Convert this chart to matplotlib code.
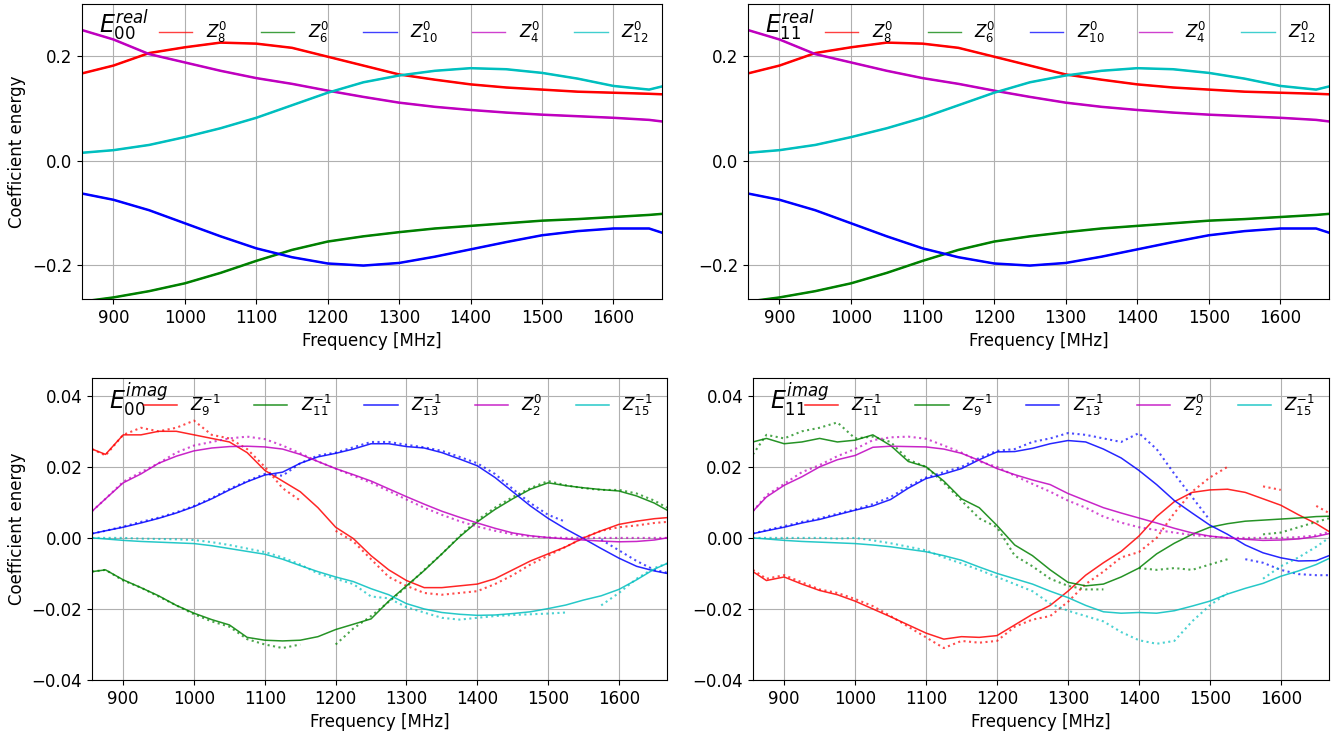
import numpy as np
import matplotlib
matplotlib.use('Agg')
import matplotlib.pyplot as plt

# ---- real part (both top panels look the same) ----
freq_real = [856, 900, 950, 1000, 1050, 1100, 1150, 1200, 1250, 1300,
             1350, 1400, 1450, 1500, 1550, 1600, 1650, 1668]
z8_real = [0.167, 0.182, 0.206, 0.217, 0.226, 0.224, 0.216, 0.199, 0.182, 0.165,
           0.155, 0.146, 0.140, 0.136, 0.132, 0.130, 0.128, 0.127]
z6_real = [-0.270, -0.262, -0.250, -0.235, -0.215, -0.192, -0.171, -0.155, -0.145, -0.137,
           -0.130, -0.125, -0.120, -0.115, -0.112, -0.108, -0.104, -0.102]
z10_real = [-0.063, -0.075, -0.095, -0.120, -0.145, -0.168, -0.185, -0.197, -0.201, -0.196,
            -0.184, -0.170, -0.156, -0.143, -0.135, -0.130, -0.130, -0.138]
z4_real = [0.250, 0.232, 0.204, 0.188, 0.172, 0.158, 0.147, 0.134, 0.122, 0.111,
           0.103, 0.097, 0.092, 0.088, 0.085, 0.082, 0.078, 0.075]
z12_real = [0.015, 0.020, 0.030, 0.045, 0.062, 0.082, 0.106, 0.130, 0.150, 0.163,
            0.172, 0.177, 0.175, 0.168, 0.157, 0.143, 0.136, 0.142]

# ---- imaginary part ----
freq_imag = [856, 875, 900, 925, 950, 975, 1000, 1025, 1050, 1075, 1100, 1125,
             1150, 1175, 1200, 1225, 1250, 1275, 1300, 1325, 1350, 1375, 1400,
             1425, 1450, 1475, 1500, 1525, 1550, 1575, 1600, 1625, 1650, 1668]
nan = np.nan

# E00 imag: model lines / measured dots
e00_z9_fit = [0.025, 0.0235, 0.029, 0.029, 0.030, 0.030, 0.029, 0.028, 0.027, 0.024, 0.019, 0.016,
              0.013, 0.0085, 0.003, -0.0002, -0.005, -0.009, -0.012, -0.014, -0.014, -0.0135, -0.013,
              -0.0115, -0.009, -0.0065, -0.0045, -0.0025, 0.0, 0.002, 0.0038, 0.0047, 0.0054, 0.0057]
e00_z9_dat = [0.025, 0.0232, 0.029, 0.031, 0.030, 0.031, 0.033, 0.029, 0.028, 0.025, 0.020, 0.014,
              0.0105, nan, 0.002, -0.001, -0.006, -0.011, -0.0135, -0.0155, -0.016, -0.0155, -0.015,
              -0.013, -0.0105, -0.0075, -0.005, -0.0025, 0.0, 0.002, 0.003, 0.0035, 0.0042, 0.0045]
e00_z11_fit = [-0.0095, -0.009, -0.0118, -0.014, -0.0163, -0.019, -0.0212, -0.023, -0.0245, -0.028, -0.0288, -0.029,
               -0.0288, -0.0278, -0.0258, -0.0243, -0.0228, -0.0178, -0.0135, -0.0092, -0.0045, 0.0003, 0.0045,
               0.008, 0.011, 0.0137, 0.0155, 0.0147, 0.0141, 0.0136, 0.0132, 0.0118, 0.0098, 0.0078]
e00_z11_dat = [-0.0095, -0.009, -0.012, -0.014, -0.0165, -0.019, -0.0215, -0.0235, -0.025, -0.0285, -0.030, -0.031,
               -0.030, nan, -0.030, -0.0255, -0.022, -0.018, -0.0138, -0.009, -0.0045, 0.0005, 0.005,
               0.0085, 0.0115, 0.014, 0.016, 0.0148, 0.014, 0.0135, 0.0135, 0.0125, 0.0105, 0.0085]
e00_z13_fit = [0.0012, 0.002, 0.003, 0.0042, 0.0055, 0.007, 0.0088, 0.011, 0.0135, 0.0158, 0.0177, 0.0185,
               0.021, 0.0228, 0.0238, 0.025, 0.0265, 0.0265, 0.0257, 0.0253, 0.024, 0.0222, 0.0203,
               0.017, 0.013, 0.009, 0.0055, 0.0025, -0.0002, -0.003, -0.0057, -0.008, -0.0093, -0.010]
e00_z13_dat = [0.0012, 0.002, 0.0032, 0.0045, 0.0057, 0.0072, 0.009, 0.0112, 0.0138, 0.016, 0.018, 0.0175,
               0.021, 0.0232, 0.024, 0.0255, 0.027, 0.027, 0.0262, 0.0255, 0.0245, 0.0228, 0.021,
               0.018, 0.0138, 0.0098, 0.0065, 0.0045, nan, -0.0005, -0.0035, -0.0065, -0.009, -0.0098]
e00_z2_fit = [0.0075, 0.011, 0.0155, 0.018, 0.021, 0.023, 0.0245, 0.0253, 0.0257, 0.0258, 0.0256, 0.025,
              0.0235, 0.0215, 0.0195, 0.0178, 0.016, 0.0138, 0.0116, 0.0095, 0.0075, 0.0058, 0.0042,
              0.0027, 0.0014, 0.0006, 0.0001, -0.0003, -0.0006, -0.0009, -0.0011, -0.001, -0.0006, 0.0]
e00_z2_dat = [0.0075, 0.011, 0.0158, 0.0185, 0.021, 0.024, 0.026, 0.027, 0.028, 0.0285, 0.0278, 0.026,
              0.0238, 0.0215, 0.0195, 0.0175, 0.0155, 0.0132, 0.0108, 0.0085, 0.0065, 0.0047, 0.0032,
              0.002, 0.001, 0.0004, 0.0001, 0.0, 0.0, 0.0, 0.0, 0.0, 0.0, 0.0]
e00_z15_fit = [0.0, -0.0003, -0.0007, -0.001, -0.0012, -0.0014, -0.0016, -0.0022, -0.003, -0.0038, -0.0046, -0.006,
               -0.0078, -0.0095, -0.011, -0.0123, -0.0143, -0.016, -0.0185, -0.020, -0.021, -0.0215, -0.0218,
               -0.0217, -0.0213, -0.0208, -0.0199, -0.0189, -0.0175, -0.0163, -0.0145, -0.0118, -0.0088, -0.0072]
e00_z15_dat = [0.0, 0.0, 0.0, -0.0002, -0.0003, -0.0004, -0.0006, -0.0012, -0.002, -0.003, -0.004, -0.0055,
               -0.0075, -0.010, -0.0115, -0.013, -0.0165, -0.017, -0.0195, -0.021, -0.0225, -0.023, -0.0225,
               -0.022, -0.0217, -0.0215, -0.0213, -0.021, nan, -0.019, -0.0155, -0.0115, -0.0085, -0.0072]

# E11 imag
e11_z11_fit = [-0.0095, -0.012, -0.011, -0.013, -0.0148, -0.016, -0.0178, -0.020, -0.0222, -0.0245, -0.0268, -0.0285,
               -0.0278, -0.028, -0.0275, -0.0245, -0.0215, -0.019, -0.015, -0.0105, -0.007, -0.0038, 0.0005,
               0.006, 0.0102, 0.0128, 0.0135, 0.0137, 0.0128, 0.011, 0.0092, 0.0065, 0.004, 0.0018]
e11_z11_dat = [-0.009, -0.0115, -0.0105, -0.0125, -0.0145, -0.0155, -0.0172, -0.0192, -0.022, -0.025, -0.028, -0.031,
               -0.029, -0.0295, -0.029, -0.025, -0.023, -0.022, -0.018, -0.013, -0.0095, -0.0055, -0.004,
               0.0, 0.007, 0.013, 0.017, 0.020, nan, 0.0145, 0.0135, nan, 0.009, 0.007]
e11_z9_fit = [0.027, 0.028, 0.0265, 0.027, 0.028, 0.027, 0.0275, 0.029, 0.026, 0.0215, 0.020, 0.016,
              0.011, 0.0085, 0.0035, -0.002, -0.005, -0.009, -0.0125, -0.0135, -0.013, -0.011, -0.0085,
              -0.0045, -0.0015, 0.001, 0.003, 0.004, 0.0047, 0.005, 0.0053, 0.0056, 0.006, 0.0061]
e11_z9_dat = [0.0235, 0.029, 0.028, 0.030, 0.031, 0.0325, 0.028, 0.0285, 0.027, 0.022, 0.020, 0.0155,
              0.0105, 0.0055, 0.003, -0.005, -0.008, -0.0115, -0.0135, -0.0145, -0.0145, nan, -0.0085,
              -0.009, -0.0085, -0.009, -0.0075, -0.006, nan, 0.001, 0.0015, 0.003, 0.0045, 0.0055]
e11_z13_fit = [0.0012, 0.002, 0.003, 0.0042, 0.0052, 0.0065, 0.0078, 0.009, 0.0108, 0.014, 0.0167, 0.018,
               0.0195, 0.022, 0.0242, 0.0243, 0.0252, 0.0265, 0.0274, 0.027, 0.025, 0.0225, 0.019,
               0.015, 0.0105, 0.007, 0.0036, 0.001, -0.002, -0.0042, -0.0056, -0.0065, -0.0064, -0.005]
e11_z13_dat = [0.0012, 0.0022, 0.0033, 0.0045, 0.0055, 0.0068, 0.008, 0.0095, 0.0115, 0.0145, 0.017, 0.0185,
               0.020, 0.0225, 0.0245, 0.025, 0.027, 0.028, 0.0295, 0.029, 0.028, 0.027, 0.0295,
               0.025, 0.018, 0.0115, 0.005, nan, -0.006, -0.007, -0.009, -0.0102, -0.0105, -0.0105]
e11_z2_fit = [0.0075, 0.0115, 0.0148, 0.0172, 0.020, 0.022, 0.0232, 0.0255, 0.0258, 0.0257, 0.0256, 0.025,
              0.0238, 0.0218, 0.0195, 0.0178, 0.0163, 0.015, 0.0125, 0.0105, 0.0085, 0.007, 0.0056,
              0.0042, 0.0027, 0.0014, 0.0005, 0.0, -0.0004, -0.0007, -0.0006, -0.0003, 0.0004, 0.0012]
e11_z2_dat = [0.0075, 0.012, 0.0152, 0.0185, 0.0205, 0.023, 0.025, 0.0275, 0.0283, 0.0285, 0.0279, 0.026,
              0.024, 0.0215, 0.020, 0.0175, 0.0152, 0.013, 0.0105, 0.0085, 0.006, 0.0043, 0.003,
              0.0022, 0.0015, 0.0008, 0.0004, 0.0, 0.0, 0.0, 0.0, 0.0002, 0.0007, 0.0017]
e11_z15_fit = [0.0, -0.0003, -0.0007, -0.001, -0.0012, -0.0014, -0.0016, -0.002, -0.0025, -0.0032, -0.0039, -0.005,
               -0.0063, -0.0082, -0.010, -0.0115, -0.013, -0.015, -0.0168, -0.019, -0.0208, -0.0212, -0.021,
               -0.0212, -0.0205, -0.0192, -0.0178, -0.0158, -0.0142, -0.0128, -0.0108, -0.0093, -0.0075, -0.0058]
e11_z15_dat = [0.0, 0.0, 0.0, 0.0, 0.0, -0.0002, 0.0, -0.0007, -0.0015, -0.0025, -0.0035, -0.0055,
               -0.0072, -0.009, -0.011, -0.013, -0.015, -0.0185, -0.0205, -0.022, -0.0235, -0.0265, -0.0288,
               -0.0298, -0.029, -0.0235, -0.019, -0.0155, nan, -0.0115, -0.008, -0.0055, -0.0025, 0.0]

colors = ['r', 'g', 'b', 'm', 'c']

labels_real = [r'$Z_8^0$', r'$Z_6^0$', r'$Z_{10}^0$', r'$Z_4^0$', r'$Z_{12}^0$']
labels_e00 = [r'$Z_9^{-1}$', r'$Z_{11}^{-1}$', r'$Z_{13}^{-1}$', r'$Z_2^0$', r'$Z_{15}^{-1}$']
labels_e11 = [r'$Z_{11}^{-1}$', r'$Z_9^{-1}$', r'$Z_{13}^{-1}$', r'$Z_2^0$', r'$Z_{15}^{-1}$']

real_series = [z8_real, z6_real, z10_real, z4_real, z12_real]
e00_fit = [e00_z9_fit, e00_z11_fit, e00_z13_fit, e00_z2_fit, e00_z15_fit]
e00_dat = [e00_z9_dat, e00_z11_dat, e00_z13_dat, e00_z2_dat, e00_z15_dat]
e11_fit = [e11_z11_fit, e11_z9_fit, e11_z13_fit, e11_z2_fit, e11_z15_fit]
e11_dat = [e11_z11_dat, e11_z9_dat, e11_z13_dat, e11_z2_dat, e11_z15_dat]

plt.rcParams['font.size'] = 12

fig = plt.figure(figsize=(13.4, 7.33), dpi=100)
ax_tl = fig.add_axes([0.0612, 0.5921, 0.4328, 0.4025])
ax_tr = fig.add_axes([0.5582, 0.5921, 0.4336, 0.4025])
ax_bl = fig.add_axes([0.0687, 0.0723, 0.4291, 0.4120])
ax_br = fig.add_axes([0.5619, 0.0723, 0.4299, 0.4120])


def finish(ax, name, leg_box, ylim, yticks, ylabel):
    ax.set_xlim(856, 1668)
    ax.set_ylim(*ylim)
    ax.set_yticks(yticks)
    ax.set_xticks([900, 1000, 1100, 1200, 1300, 1400, 1500, 1600])
    ax.grid(True)
    ax.set_xlabel('Frequency [MHz]')
    if ylabel:
        ax.set_ylabel('Coefficient energy')
    ax.text(0.029, 0.90, name, transform=ax.transAxes, fontsize=17,
            va='baseline', ha='left')
    ax.legend(loc='center', bbox_to_anchor=leg_box, mode='expand', ncol=5,
              frameon=False, fontsize=12, borderaxespad=0)


for ax, name, ylab in [(ax_tl, r'$E_{00}^{real}$', True), (ax_tr, r'$E_{11}^{real}$', False)]:
    for vals, c, lab in zip(real_series, colors, labels_real):
        ax.plot(freq_real, vals, color=c, lw=1.8)
        ax.plot(freq_real, vals, color=c, lw=1.0, alpha=0.75, label=lab)
    finish(ax, name, (0.121, 0.855, 0.867, 0.1), (-0.265, 0.30),
           [-0.2, 0.0, 0.2], ylab)

for ax, name, fits, dats, labs, ylab in [
        (ax_bl, r'$E_{00}^{imag}$', e00_fit, e00_dat, labels_e00, True),
        (ax_br, r'$E_{11}^{imag}$', e11_fit, e11_dat, labels_e11, False)]:
    for fit, dat, c, lab in zip(fits, dats, colors, labs):
        ax.plot(freq_imag, dat, color=c, lw=1.5, ls=':', alpha=0.7)
        ax.plot(freq_imag, fit, color=c, lw=1.1, alpha=0.85, label=lab)
    finish(ax, name, (0.078, 0.86, 0.91, 0.1), (-0.04, 0.045),
           [-0.04, -0.02, 0.0, 0.02, 0.04], ylab)

fig.savefig('out.png', dpi=100)
